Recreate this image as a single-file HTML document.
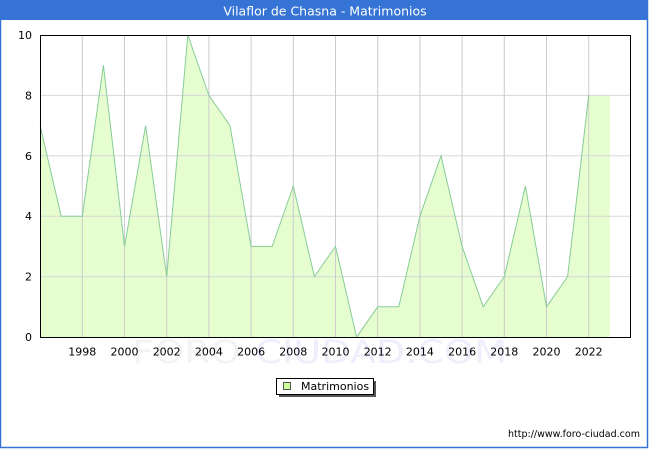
<!DOCTYPE html>
<html>
<head>
<meta charset="utf-8">
<style>
  html, body { margin: 0; padding: 0; background: #ffffff; }
  svg { display: block; }
  text { font-family: "DejaVu Sans", "Liberation Sans", sans-serif; }
</style>
</head>
<body>
<svg width="650" height="450" viewBox="0 0 650 450" xmlns="http://www.w3.org/2000/svg">
  <rect x="0" y="0" width="650" height="450" fill="#ffffff"/>
  <!-- outer border -->
  <rect x="0.5" y="0.5" width="647" height="447" fill="none" stroke="#3574d4" stroke-width="1.5"/>
  <!-- title bar -->
  <rect x="0" y="0" width="648" height="20" fill="#3574d4"/>
  <text x="325" y="15.5" font-size="12.5" fill="#ffffff" text-anchor="middle">Vilaflor de Chasna - Matrimonios</text>

  <!-- watermark -->
  <text x="132" y="363" font-size="32" textLength="375" lengthAdjust="spacingAndGlyphs"><tspan fill="#f3f3f3">FORO-</tspan><tspan fill="#eeeefc">CIUDAD.COM</tspan></text>

  <!-- area fill -->
  <polygon fill="#e5fdcf" points="40.1,337 40.1,125.6 61.2,216.2 82.3,216.2 103.4,65.2 124.5,246.4 145.6,125.6 166.7,276.6 187.8,35 208.9,95.4 230,125.6 251.1,246.4 272.2,246.4 293.3,186 314.4,276.6 335.5,246.4 356.6,337 377.7,306.8 398.8,306.8 419.9,216.2 441,155.8 462.1,246.4 483.2,306.8 504.3,276.6 525.4,186 546.5,306.8 567.6,276.6 588.7,95.4 609.8,95.4 609.8,337"/>

  <!-- grid lines -->
  <g stroke="#d8d8d8" stroke-width="1">
    <line x1="40" y1="276.6" x2="630" y2="276.6"/>
    <line x1="40" y1="216.2" x2="630" y2="216.2"/>
    <line x1="40" y1="155.8" x2="630" y2="155.8"/>
    <line x1="40" y1="95.4" x2="630" y2="95.4"/>
  </g>
  <g stroke="#cccccc" stroke-width="1">
    <line x1="82.3" y1="35" x2="82.3" y2="337"/>
    <line x1="124.5" y1="35" x2="124.5" y2="337"/>
    <line x1="166.7" y1="35" x2="166.7" y2="337"/>
    <line x1="208.9" y1="35" x2="208.9" y2="337"/>
    <line x1="251.1" y1="35" x2="251.1" y2="337"/>
    <line x1="293.3" y1="35" x2="293.3" y2="337"/>
    <line x1="335.5" y1="35" x2="335.5" y2="337"/>
    <line x1="377.7" y1="35" x2="377.7" y2="337"/>
    <line x1="419.9" y1="35" x2="419.9" y2="337"/>
    <line x1="462.1" y1="35" x2="462.1" y2="337"/>
    <line x1="504.3" y1="35" x2="504.3" y2="337"/>
    <line x1="546.5" y1="35" x2="546.5" y2="337"/>
    <line x1="588.7" y1="35" x2="588.7" y2="337"/>
  </g>

  <!-- series line -->
  <polyline fill="none" stroke="#88cc99" stroke-width="1" points="40.1,125.6 61.2,216.2 82.3,216.2 103.4,65.2 124.5,246.4 145.6,125.6 166.7,276.6 187.8,35 208.9,95.4 230,125.6 251.1,246.4 272.2,246.4 293.3,186 314.4,276.6 335.5,246.4 356.6,337 377.7,306.8 398.8,306.8 419.9,216.2 441,155.8 462.1,246.4 483.2,306.8 504.3,276.6 525.4,186 546.5,306.8 567.6,276.6 588.7,95.4"/>

  <!-- plot frame -->
  <rect x="40.5" y="35.5" width="590" height="302" fill="none" stroke="#000000" stroke-width="1"/>

  <!-- y labels -->
  <g font-size="11" fill="#000" text-anchor="end">
    <text x="32" y="341">0</text>
    <text x="32" y="280.6">2</text>
    <text x="32" y="220.2">4</text>
    <text x="32" y="159.8">6</text>
    <text x="32" y="99.4">8</text>
    <text x="32" y="39">10</text>
  </g>

  <!-- x labels -->
  <g font-size="11" fill="#000" text-anchor="middle">
    <text x="82.3" y="355.5">1998</text>
    <text x="124.5" y="355.5">2000</text>
    <text x="166.7" y="355.5">2002</text>
    <text x="208.9" y="355.5">2004</text>
    <text x="251.1" y="355.5">2006</text>
    <text x="293.3" y="355.5">2008</text>
    <text x="335.5" y="355.5">2010</text>
    <text x="377.7" y="355.5">2012</text>
    <text x="419.9" y="355.5">2014</text>
    <text x="462.1" y="355.5">2016</text>
    <text x="504.3" y="355.5">2018</text>
    <text x="546.5" y="355.5">2020</text>
    <text x="588.7" y="355.5">2022</text>
  </g>

  <!-- legend -->
  <rect x="279" y="381" width="97" height="16" fill="#555555"/>
  <rect x="276.5" y="378.5" width="97" height="16" fill="#ffffff" stroke="#000" stroke-width="1"/>
  <rect x="283.5" y="382.5" width="7" height="7" fill="#ccff99" stroke="#555" stroke-width="1"/>
  <text x="301" y="390" font-size="11" fill="#000">Matrimonios</text>

  <!-- url -->
  <text x="640" y="437" font-size="10" fill="#000" text-anchor="end" textLength="132" lengthAdjust="spacingAndGlyphs">http://www.foro-ciudad.com</text>
</svg>
</body>
</html>
